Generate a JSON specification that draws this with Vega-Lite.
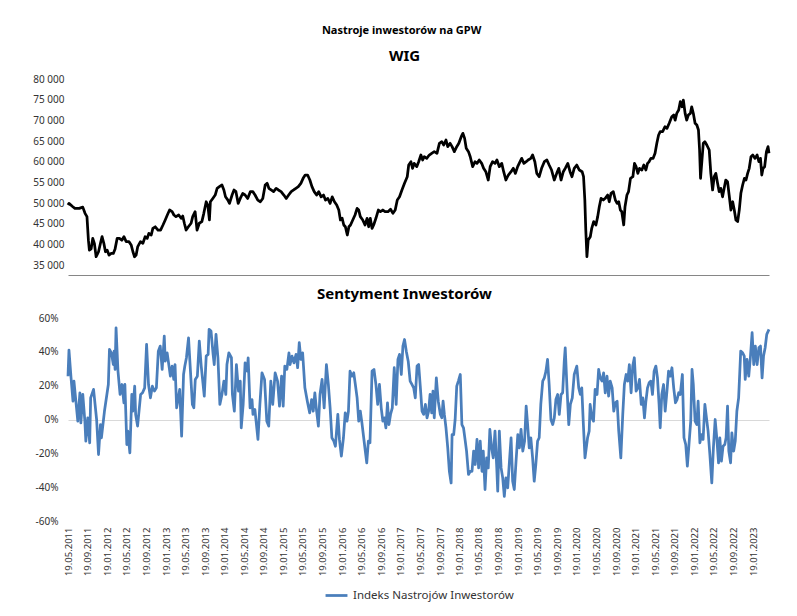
{
"$schema": "https://vega.github.io/schema/vega-lite/v6.json",
"background": "white",
"padding": {"left": 32, "top": 25, "right": 5, "bottom": 5},
"title": {"text": "Nastroje inwestorów na GPW", "fontSize": 11, "anchor": "middle", "offset": 13},
"spacing": 12,
"config": {
  "view": {"stroke": null},
  "font": "Noto Sans",
  "title": {"font": "Noto Sans", "fontWeight": "bold", "color": "#000000"},
  "axis": {"labelFont": "Noto Sans", "labelColor": "#333333"},
  "legend": {"labelFont": "Noto Sans", "layout": {"bottom": {"anchor": "middle"}}}
},
"datasets": {
"wig": [
{"d":"2011-05-19","v":49500},{"d":"2011-05-25","v":49900},{"d":"2011-06-18","v":49100},{"d":"2011-07-01","v":48700},{"d":"2011-07-28","v":48700},{"d":"2011-08-19","v":49000},{"d":"2011-09-02","v":47500},{"d":"2011-09-14","v":46700},{"d":"2011-09-23","v":41000},{"d":"2011-09-29","v":38600},{"d":"2011-10-10","v":38900},{"d":"2011-10-20","v":41450},{"d":"2011-10-30","v":40250},{"d":"2011-11-10","v":37000},{"d":"2011-11-25","v":38200},{"d":"2011-12-07","v":40250},{"d":"2011-12-17","v":41850},{"d":"2011-12-28","v":40250},{"d":"2012-01-07","v":38200},{"d":"2012-01-18","v":38600},{"d":"2012-01-29","v":37400},{"d":"2012-02-12","v":37800},{"d":"2012-02-25","v":37800},{"d":"2012-03-07","v":38900},{"d":"2012-03-20","v":41450},{"d":"2012-04-03","v":41450},{"d":"2012-04-18","v":41000},{"d":"2012-05-01","v":41850},{"d":"2012-05-15","v":40650},{"d":"2012-06-01","v":40650},{"d":"2012-06-15","v":39850},{"d":"2012-06-26","v":38200},{"d":"2012-07-06","v":37000},{"d":"2012-07-16","v":37400},{"d":"2012-07-26","v":39450},{"d":"2012-08-12","v":40650},{"d":"2012-08-27","v":40250},{"d":"2012-09-10","v":41850},{"d":"2012-09-23","v":41450},{"d":"2012-10-03","v":42650},{"d":"2012-10-18","v":42250},{"d":"2012-10-28","v":43850},{"d":"2012-11-12","v":44250},{"d":"2012-11-29","v":43450},{"d":"2012-12-15","v":43450},{"d":"2012-12-30","v":44680},{"d":"2013-01-13","v":45900},{"d":"2013-01-26","v":47100},{"d":"2013-02-09","v":48300},{"d":"2013-02-25","v":47900},{"d":"2013-03-08","v":47100},{"d":"2013-03-21","v":46700},{"d":"2013-04-07","v":47100},{"d":"2013-04-22","v":46300},{"d":"2013-05-02","v":46850},{"d":"2013-05-12","v":45100},{"d":"2013-05-23","v":43450},{"d":"2013-06-06","v":44250},{"d":"2013-06-23","v":45100},{"d":"2013-07-03","v":46700},{"d":"2013-07-18","v":47900},{"d":"2013-07-30","v":43450},{"d":"2013-08-13","v":45100},{"d":"2013-08-29","v":45500},{"d":"2013-09-10","v":47500},{"d":"2013-09-25","v":50300},{"d":"2013-10-05","v":49500},{"d":"2013-10-15","v":45900},{"d":"2013-10-21","v":50300},{"d":"2013-11-05","v":51100},{"d":"2013-11-20","v":51930},{"d":"2013-12-02","v":53550},{"d":"2013-12-16","v":53950},{"d":"2014-01-01","v":54350},{"d":"2014-01-13","v":53150},{"d":"2014-01-23","v":51500},{"d":"2014-02-07","v":50700},{"d":"2014-02-17","v":49900},{"d":"2014-03-05","v":51930},{"d":"2014-03-17","v":53150},{"d":"2014-03-29","v":52750},{"d":"2014-04-12","v":49900},{"d":"2014-04-25","v":51100},{"d":"2014-05-10","v":52300},{"d":"2014-05-25","v":51930},{"d":"2014-06-10","v":51100},{"d":"2014-06-27","v":52750},{"d":"2014-07-12","v":52750},{"d":"2014-07-26","v":51930},{"d":"2014-08-12","v":50700},{"d":"2014-08-28","v":50300},{"d":"2014-09-12","v":51100},{"d":"2014-09-27","v":54350},{"d":"2014-10-09","v":54760},{"d":"2014-10-20","v":53550},{"d":"2014-11-03","v":53150},{"d":"2014-11-18","v":52750},{"d":"2014-12-04","v":53550},{"d":"2014-12-18","v":53150},{"d":"2015-01-04","v":52750},{"d":"2015-01-21","v":51930},{"d":"2015-02-05","v":51100},{"d":"2015-02-20","v":51930},{"d":"2015-03-08","v":52750},{"d":"2015-03-23","v":53150},{"d":"2015-04-06","v":53550},{"d":"2015-04-21","v":53950},{"d":"2015-05-07","v":54760},{"d":"2015-05-21","v":55970},{"d":"2015-06-03","v":56770},{"d":"2015-06-18","v":56770},{"d":"2015-07-02","v":55570},{"d":"2015-07-15","v":53950},{"d":"2015-07-29","v":52750},{"d":"2015-08-13","v":51930},{"d":"2015-08-26","v":52750},{"d":"2015-09-10","v":51500},{"d":"2015-09-25","v":51930},{"d":"2015-10-07","v":50700},{"d":"2015-10-22","v":51100},{"d":"2015-11-05","v":49900},{"d":"2015-11-18","v":51500},{"d":"2015-12-02","v":50300},{"d":"2015-12-16","v":49500},{"d":"2015-12-29","v":48300},{"d":"2016-01-08","v":45900},{"d":"2016-01-19","v":46300},{"d":"2016-01-29","v":44680},{"d":"2016-02-08","v":44250},{"d":"2016-02-20","v":42250},{"d":"2016-03-01","v":44250},{"d":"2016-03-11","v":44680},{"d":"2016-03-25","v":45900},{"d":"2016-04-08","v":47100},{"d":"2016-04-21","v":48700},{"d":"2016-05-01","v":48300},{"d":"2016-05-11","v":46700},{"d":"2016-05-26","v":45900},{"d":"2016-06-09","v":44680},{"d":"2016-06-22","v":46300},{"d":"2016-07-02","v":44250},{"d":"2016-07-12","v":46300},{"d":"2016-07-23","v":43850},{"d":"2016-08-02","v":44680},{"d":"2016-08-16","v":46300},{"d":"2016-08-31","v":48300},{"d":"2016-09-13","v":47900},{"d":"2016-09-28","v":48300},{"d":"2016-10-12","v":47900},{"d":"2016-10-30","v":47900},{"d":"2016-11-15","v":48500},{"d":"2016-11-30","v":47500},{"d":"2016-12-14","v":48300},{"d":"2016-12-27","v":50720},{"d":"2017-01-10","v":51500},{"d":"2017-01-25","v":53150},{"d":"2017-02-10","v":54760},{"d":"2017-02-27","v":56360},{"d":"2017-03-08","v":59190},{"d":"2017-03-22","v":59990},{"d":"2017-04-01","v":58390},{"d":"2017-04-11","v":59590},{"d":"2017-04-27","v":58790},{"d":"2017-05-09","v":59990},{"d":"2017-05-23","v":61610},{"d":"2017-06-03","v":60400},{"d":"2017-06-13","v":61200},{"d":"2017-06-28","v":60800},{"d":"2017-07-14","v":61610},{"d":"2017-07-29","v":62020},{"d":"2017-08-14","v":62420},{"d":"2017-08-31","v":62020},{"d":"2017-09-15","v":64440},{"d":"2017-09-30","v":64840},{"d":"2017-10-12","v":64040},{"d":"2017-10-26","v":65240},{"d":"2017-11-06","v":63630},{"d":"2017-11-21","v":64440},{"d":"2017-12-03","v":63630},{"d":"2017-12-17","v":62420},{"d":"2018-01-01","v":63630},{"d":"2018-01-14","v":64440},{"d":"2018-01-29","v":66040},{"d":"2018-02-08","v":66860},{"d":"2018-02-19","v":65640},{"d":"2018-03-01","v":63230},{"d":"2018-03-15","v":62420},{"d":"2018-03-26","v":61200},{"d":"2018-04-10","v":58790},{"d":"2018-04-25","v":59990},{"d":"2018-05-07","v":59590},{"d":"2018-05-21","v":60400},{"d":"2018-06-05","v":59590},{"d":"2018-06-17","v":58390},{"d":"2018-07-01","v":57570},{"d":"2018-07-16","v":55560},{"d":"2018-07-28","v":58790},{"d":"2018-08-12","v":59990},{"d":"2018-08-27","v":59590},{"d":"2018-09-08","v":60400},{"d":"2018-09-23","v":58790},{"d":"2018-10-08","v":59590},{"d":"2018-10-20","v":57570},{"d":"2018-11-03","v":55560},{"d":"2018-11-18","v":56770},{"d":"2018-12-05","v":57570},{"d":"2018-12-19","v":58390},{"d":"2019-01-01","v":57170},{"d":"2019-01-15","v":58790},{"d":"2019-01-30","v":59990},{"d":"2019-02-09","v":60800},{"d":"2019-02-23","v":59590},{"d":"2019-03-09","v":59990},{"d":"2019-03-21","v":60400},{"d":"2019-04-07","v":60800},{"d":"2019-04-18","v":61610},{"d":"2019-05-02","v":59990},{"d":"2019-05-14","v":57170},{"d":"2019-05-29","v":56360},{"d":"2019-06-13","v":58390},{"d":"2019-06-30","v":59990},{"d":"2019-07-16","v":60400},{"d":"2019-07-30","v":59190},{"d":"2019-08-14","v":57980},{"d":"2019-08-31","v":55560},{"d":"2019-09-15","v":57170},{"d":"2019-09-28","v":58390},{"d":"2019-10-12","v":55560},{"d":"2019-10-26","v":57570},{"d":"2019-11-07","v":58390},{"d":"2019-11-23","v":59590},{"d":"2019-12-07","v":57570},{"d":"2019-12-19","v":56360},{"d":"2020-01-02","v":58390},{"d":"2020-01-18","v":59190},{"d":"2020-02-03","v":57980},{"d":"2020-02-20","v":57570},{"d":"2020-02-29","v":56360},{"d":"2020-03-08","v":50720},{"d":"2020-03-14","v":43470},{"d":"2020-03-21","v":37010},{"d":"2020-03-29","v":41050},{"d":"2020-04-11","v":41850},{"d":"2020-04-20","v":43880},{"d":"2020-05-02","v":45500},{"d":"2020-05-16","v":44680},{"d":"2020-05-27","v":46700},{"d":"2020-06-06","v":49100},{"d":"2020-06-17","v":51130},{"d":"2020-07-01","v":50720},{"d":"2020-07-13","v":51130},{"d":"2020-07-28","v":51930},{"d":"2020-08-07","v":50300},{"d":"2020-08-18","v":52340},{"d":"2020-09-01","v":52750},{"d":"2020-09-14","v":50720},{"d":"2020-09-25","v":49900},{"d":"2020-10-05","v":50300},{"d":"2020-10-15","v":48300},{"d":"2020-10-24","v":47900},{"d":"2020-11-05","v":44680},{"d":"2020-11-13","v":49100},{"d":"2020-11-25","v":51930},{"d":"2020-12-05","v":52750},{"d":"2020-12-17","v":55970},{"d":"2021-01-01","v":56360},{"d":"2021-01-11","v":59590},{"d":"2021-01-21","v":58790},{"d":"2021-02-01","v":57170},{"d":"2021-02-11","v":58390},{"d":"2021-02-26","v":57980},{"d":"2021-03-10","v":59190},{"d":"2021-03-23","v":57980},{"d":"2021-04-02","v":59590},{"d":"2021-04-12","v":59990},{"d":"2021-04-23","v":60800},{"d":"2021-05-07","v":60800},{"d":"2021-05-19","v":62020},{"d":"2021-05-30","v":64440},{"d":"2021-06-10","v":66450},{"d":"2021-06-20","v":67250},{"d":"2021-07-05","v":67250},{"d":"2021-07-20","v":68460},{"d":"2021-08-01","v":68050},{"d":"2021-08-15","v":69280},{"d":"2021-08-31","v":70870},{"d":"2021-09-12","v":71290},{"d":"2021-09-21","v":70060},{"d":"2021-10-01","v":71690},{"d":"2021-10-13","v":72490},{"d":"2021-10-23","v":74510},{"d":"2021-11-03","v":73280},{"d":"2021-11-11","v":74910},{"d":"2021-11-22","v":71690},{"d":"2021-12-02","v":70060},{"d":"2021-12-12","v":71290},{"d":"2021-12-25","v":71690},{"d":"2022-01-02","v":73280},{"d":"2022-01-12","v":71690},{"d":"2022-01-23","v":69280},{"d":"2022-02-03","v":68860},{"d":"2022-02-13","v":67660},{"d":"2022-02-20","v":62820},{"d":"2022-02-26","v":55970},{"d":"2022-03-07","v":60400},{"d":"2022-03-15","v":64440},{"d":"2022-03-25","v":64840},{"d":"2022-04-06","v":64040},{"d":"2022-04-21","v":62820},{"d":"2022-05-01","v":57170},{"d":"2022-05-12","v":53150},{"d":"2022-05-22","v":56360},{"d":"2022-06-01","v":57170},{"d":"2022-06-12","v":54760},{"d":"2022-06-22","v":52750},{"d":"2022-07-02","v":53550},{"d":"2022-07-13","v":51500},{"d":"2022-07-23","v":53550},{"d":"2022-08-02","v":55560},{"d":"2022-08-13","v":55160},{"d":"2022-08-23","v":51930},{"d":"2022-09-03","v":48300},{"d":"2022-09-14","v":50300},{"d":"2022-09-24","v":48300},{"d":"2022-10-04","v":45890},{"d":"2022-10-15","v":45500},{"d":"2022-10-25","v":48300},{"d":"2022-11-04","v":52340},{"d":"2022-11-15","v":54350},{"d":"2022-11-26","v":55970},{"d":"2022-12-06","v":55560},{"d":"2022-12-16","v":57170},{"d":"2022-12-26","v":58390},{"d":"2023-01-06","v":61200},{"d":"2023-01-17","v":61610},{"d":"2023-01-31","v":60800},{"d":"2023-02-13","v":61610},{"d":"2023-02-24","v":59990},{"d":"2023-03-06","v":60800},{"d":"2023-03-14","v":56770},{"d":"2023-03-22","v":58390},{"d":"2023-04-01","v":58790},{"d":"2023-04-12","v":62420},{"d":"2023-04-22","v":63630},{"d":"2023-04-28","v":62020}
],
"sent": [
{"d":"2011-05-19","v":0.256},{"d":"2011-05-25","v":0.41},{"d":"2011-06-07","v":0.246},{"d":"2011-06-19","v":0.108},{"d":"2011-06-25","v":0.227},{"d":"2011-07-07","v":0.108},{"d":"2011-07-19","v":-0.01},{"d":"2011-08-01","v":0.158},{"d":"2011-08-07","v":-0.02},{"d":"2011-08-19","v":0.148},{"d":"2011-09-01","v":-0.01},{"d":"2011-09-07","v":-0.128},{"d":"2011-09-19","v":0.01},{"d":"2011-10-01","v":-0.138},{"d":"2011-10-07","v":0.128},{"d":"2011-10-25","v":0.178},{"d":"2011-11-13","v":0.0},{"d":"2011-11-25","v":-0.207},{"d":"2011-12-07","v":-0.03},{"d":"2011-12-13","v":-0.108},{"d":"2012-01-01","v":0.05},{"d":"2012-01-25","v":0.207},{"d":"2012-02-01","v":0.414},{"d":"2012-02-13","v":0.394},{"d":"2012-02-25","v":0.325},{"d":"2012-03-01","v":0.404},{"d":"2012-03-07","v":0.296},{"d":"2012-03-13","v":0.542},{"d":"2012-03-25","v":0.286},{"d":"2012-04-07","v":0.148},{"d":"2012-04-19","v":0.207},{"d":"2012-05-01","v":0.099},{"d":"2012-05-07","v":0.207},{"d":"2012-05-19","v":-0.148},{"d":"2012-05-25","v":-0.069},{"d":"2012-06-07","v":-0.197},{"d":"2012-06-19","v":0.148},{"d":"2012-06-25","v":0.049},{"d":"2012-07-07","v":0.197},{"d":"2012-07-13","v":0.03},{"d":"2012-07-25","v":-0.039},{"d":"2012-08-13","v":0.148},{"d":"2012-08-25","v":0.158},{"d":"2012-09-07","v":0.187},{"d":"2012-09-19","v":0.444},{"d":"2012-10-01","v":0.207},{"d":"2012-10-13","v":0.128},{"d":"2012-10-25","v":0.197},{"d":"2012-11-07","v":0.168},{"d":"2012-11-19","v":0.187},{"d":"2012-12-01","v":0.404},{"d":"2012-12-13","v":0.434},{"d":"2012-12-25","v":0.296},{"d":"2013-01-07","v":0.493},{"d":"2013-01-13","v":0.345},{"d":"2013-01-25","v":0.394},{"d":"2013-02-07","v":0.306},{"d":"2013-02-14","v":0.256},{"d":"2013-02-25","v":0.316},{"d":"2013-03-07","v":0.237},{"d":"2013-03-15","v":0.325},{"d":"2013-03-25","v":0.069},{"d":"2013-04-13","v":0.178},{"d":"2013-04-25","v":-0.099},{"d":"2013-05-07","v":0.266},{"d":"2013-05-15","v":0.316},{"d":"2013-05-25","v":0.365},{"d":"2013-06-07","v":0.483},{"d":"2013-06-19","v":0.286},{"d":"2013-07-01","v":0.089},{"d":"2013-07-10","v":0.069},{"d":"2013-07-19","v":0.237},{"d":"2013-08-01","v":0.256},{"d":"2013-08-13","v":0.464},{"d":"2013-08-25","v":0.316},{"d":"2013-09-13","v":0.138},{"d":"2013-09-25","v":0.375},{"d":"2013-10-07","v":0.385},{"d":"2013-10-13","v":0.533},{"d":"2013-10-25","v":0.523},{"d":"2013-11-07","v":0.385},{"d":"2013-11-14","v":0.325},{"d":"2013-11-25","v":0.503},{"d":"2013-12-07","v":0.365},{"d":"2013-12-19","v":0.089},{"d":"2014-01-01","v":0.148},{"d":"2014-01-13","v":0.227},{"d":"2014-01-25","v":0.148},{"d":"2014-02-01","v":0.325},{"d":"2014-02-13","v":0.394},{"d":"2014-03-01","v":0.365},{"d":"2014-03-07","v":0.148},{"d":"2014-03-19","v":0.049},{"d":"2014-04-01","v":0.325},{"d":"2014-04-14","v":0.168},{"d":"2014-04-25","v":0.227},{"d":"2014-05-01","v":-0.049},{"d":"2014-05-13","v":0.089},{"d":"2014-05-25","v":0.335},{"d":"2014-06-07","v":0.286},{"d":"2014-06-13","v":0.365},{"d":"2014-06-25","v":0.069},{"d":"2014-07-07","v":0.118},{"d":"2014-07-13","v":0.03},{"d":"2014-07-25","v":0.059},{"d":"2014-08-13","v":-0.118},{"d":"2014-08-25","v":0.089},{"d":"2014-09-07","v":0.276},{"d":"2014-09-23","v":0.237},{"d":"2014-10-07","v":-0.01},{"d":"2014-10-19","v":-0.039},{"d":"2014-11-01","v":0.227},{"d":"2014-11-13","v":0.089},{"d":"2014-11-28","v":0.276},{"d":"2014-12-13","v":0.227},{"d":"2014-12-25","v":0.079},{"d":"2015-01-07","v":0.256},{"d":"2015-01-17","v":0.079},{"d":"2015-01-27","v":0.316},{"d":"2015-02-09","v":0.296},{"d":"2015-02-22","v":0.394},{"d":"2015-03-01","v":0.325},{"d":"2015-03-13","v":0.375},{"d":"2015-03-25","v":0.335},{"d":"2015-04-07","v":0.385},{"d":"2015-04-17","v":0.306},{"d":"2015-04-27","v":0.454},{"d":"2015-05-07","v":0.355},{"d":"2015-05-18","v":0.394},{"d":"2015-06-01","v":0.187},{"d":"2015-06-18","v":0.099},{"d":"2015-07-01","v":0.039},{"d":"2015-07-13","v":0.118},{"d":"2015-07-23","v":0.049},{"d":"2015-08-02","v":0.158},{"d":"2015-08-13","v":0.049},{"d":"2015-08-24","v":-0.039},{"d":"2015-09-03","v":0.148},{"d":"2015-09-16","v":0.237},{"d":"2015-09-29","v":0.069},{"d":"2015-10-13","v":0.325},{"d":"2015-10-25","v":0.207},{"d":"2015-11-05","v":0.069},{"d":"2015-11-16","v":-0.108},{"d":"2015-11-28","v":-0.128},{"d":"2015-12-08","v":-0.158},{"d":"2015-12-23","v":0.03},{"d":"2016-01-02","v":-0.118},{"d":"2016-01-14","v":-0.217},{"d":"2016-01-27","v":-0.108},{"d":"2016-02-07","v":0.039},{"d":"2016-02-18","v":-0.01},{"d":"2016-02-27","v":0.049},{"d":"2016-03-08","v":0.286},{"d":"2016-03-20","v":0.256},{"d":"2016-03-31","v":0.276},{"d":"2016-04-10","v":0.207},{"d":"2016-04-21","v":0.128},{"d":"2016-05-01","v":-0.01},{"d":"2016-05-11","v":0.049},{"d":"2016-05-21","v":-0.02},{"d":"2016-06-01","v":-0.108},{"d":"2016-06-11","v":-0.187},{"d":"2016-06-20","v":-0.256},{"d":"2016-06-30","v":-0.128},{"d":"2016-07-10","v":-0.138},{"d":"2016-07-23","v":0.286},{"d":"2016-08-04","v":0.296},{"d":"2016-08-16","v":0.207},{"d":"2016-08-27","v":0.089},{"d":"2016-09-07","v":0.207},{"d":"2016-09-18","v":0.069},{"d":"2016-09-28","v":-0.01},{"d":"2016-10-08","v":0.01},{"d":"2016-10-17","v":-0.049},{"d":"2016-10-27","v":0.099},{"d":"2016-11-05","v":-0.03},{"d":"2016-11-15","v":0.03},{"d":"2016-11-26","v":0.069},{"d":"2016-12-08","v":0.306},{"d":"2016-12-20","v":0.089},{"d":"2016-12-31","v":0.355},{"d":"2017-01-10","v":0.385},{"d":"2017-01-21","v":0.266},{"d":"2017-01-31","v":0.434},{"d":"2017-02-10","v":0.473},{"d":"2017-02-21","v":0.404},{"d":"2017-03-05","v":0.345},{"d":"2017-03-17","v":0.227},{"d":"2017-03-28","v":0.207},{"d":"2017-04-08","v":0.187},{"d":"2017-04-18","v":0.128},{"d":"2017-04-29","v":0.316},{"d":"2017-05-09","v":0.325},{"d":"2017-05-19","v":0.197},{"d":"2017-05-30","v":0.049},{"d":"2017-06-09","v":0.03},{"d":"2017-06-20","v":0.089},{"d":"2017-06-30","v":0.01},{"d":"2017-07-10","v":0.049},{"d":"2017-07-19","v":0.148},{"d":"2017-07-29","v":0.039},{"d":"2017-08-06","v":0.168},{"d":"2017-08-14","v":0.01},{"d":"2017-08-27","v":0.246},{"d":"2017-09-08","v":0.108},{"d":"2017-09-21","v":0.03},{"d":"2017-09-30","v":0.01},{"d":"2017-10-08","v":0.108},{"d":"2017-10-16","v":0.03},{"d":"2017-10-26","v":-0.049},{"d":"2017-11-06","v":-0.168},{"d":"2017-11-16","v":-0.306},{"d":"2017-11-27","v":-0.375},{"d":"2017-12-03","v":-0.089},{"d":"2017-12-13","v":-0.089},{"d":"2017-12-22","v":0.0},{"d":"2018-01-01","v":0.197},{"d":"2018-01-11","v":0.227},{"d":"2018-01-23","v":0.266},{"d":"2018-02-02","v":-0.03},{"d":"2018-02-12","v":-0.049},{"d":"2018-02-23","v":-0.128},{"d":"2018-03-03","v":-0.187},{"d":"2018-03-15","v":-0.325},{"d":"2018-03-26","v":-0.306},{"d":"2018-04-06","v":-0.306},{"d":"2018-04-16","v":-0.187},{"d":"2018-04-26","v":-0.266},{"d":"2018-05-07","v":-0.118},{"d":"2018-05-17","v":-0.286},{"d":"2018-05-27","v":-0.128},{"d":"2018-06-07","v":-0.306},{"d":"2018-06-15","v":-0.187},{"d":"2018-06-26","v":-0.414},{"d":"2018-07-06","v":-0.227},{"d":"2018-07-16","v":-0.286},{"d":"2018-07-26","v":-0.059},{"d":"2018-08-06","v":-0.168},{"d":"2018-08-16","v":-0.227},{"d":"2018-08-27","v":-0.069},{"d":"2018-09-07","v":-0.286},{"d":"2018-09-13","v":-0.424},{"d":"2018-09-23","v":-0.069},{"d":"2018-10-04","v":-0.286},{"d":"2018-10-14","v":-0.345},{"d":"2018-10-24","v":-0.454},{"d":"2018-11-03","v":-0.345},{"d":"2018-11-14","v":-0.404},{"d":"2018-11-25","v":-0.246},{"d":"2018-12-05","v":-0.108},{"d":"2018-12-15","v":-0.365},{"d":"2018-12-25","v":-0.414},{"d":"2019-01-05","v":-0.246},{"d":"2019-01-16","v":-0.089},{"d":"2019-01-26","v":-0.168},{"d":"2019-02-05","v":-0.059},{"d":"2019-02-16","v":-0.187},{"d":"2019-02-27","v":-0.128},{"d":"2019-03-09","v":0.079},{"d":"2019-03-18","v":-0.03},{"d":"2019-03-28","v":-0.168},{"d":"2019-04-07","v":-0.108},{"d":"2019-04-18","v":-0.227},{"d":"2019-04-28","v":-0.365},{"d":"2019-05-08","v":-0.266},{"d":"2019-05-19","v":-0.128},{"d":"2019-05-29","v":-0.108},{"d":"2019-06-08","v":0.089},{"d":"2019-06-20","v":0.227},{"d":"2019-06-30","v":0.246},{"d":"2019-07-10","v":0.286},{"d":"2019-07-20","v":0.355},{"d":"2019-07-30","v":0.207},{"d":"2019-08-10","v":0.0},{"d":"2019-08-21","v":-0.03},{"d":"2019-08-31","v":0.01},{"d":"2019-09-10","v":0.118},{"d":"2019-09-21","v":0.148},{"d":"2019-10-01","v":0.03},{"d":"2019-10-12","v":0.148},{"d":"2019-10-22","v":0.158},{"d":"2019-11-01","v":0.345},{"d":"2019-11-07","v":0.424},{"d":"2019-11-18","v":0.187},{"d":"2019-11-29","v":-0.03},{"d":"2019-12-09","v":0.089},{"d":"2019-12-21","v":0.128},{"d":"2020-01-02","v":0.266},{"d":"2020-01-18","v":0.316},{"d":"2020-01-30","v":0.187},{"d":"2020-02-09","v":0.148},{"d":"2020-02-18","v":0.187},{"d":"2020-02-28","v":-0.03},{"d":"2020-03-09","v":-0.227},{"d":"2020-03-25","v":-0.108},{"d":"2020-04-04","v":-0.069},{"d":"2020-04-10","v":0.089},{"d":"2020-04-21","v":0.01},{"d":"2020-05-01","v":-0.01},{"d":"2020-05-11","v":0.178},{"d":"2020-05-23","v":0.148},{"d":"2020-06-02","v":0.296},{"d":"2020-06-12","v":0.246},{"d":"2020-06-23","v":0.227},{"d":"2020-07-03","v":0.276},{"d":"2020-07-13","v":0.158},{"d":"2020-07-24","v":0.256},{"d":"2020-08-03","v":0.138},{"d":"2020-08-13","v":0.227},{"d":"2020-08-25","v":0.187},{"d":"2020-09-04","v":0.049},{"d":"2020-09-14","v":0.099},{"d":"2020-09-25","v":0.108},{"d":"2020-10-05","v":-0.069},{"d":"2020-10-18","v":-0.227},{"d":"2020-10-30","v":0.03},{"d":"2020-11-09","v":0.207},{"d":"2020-11-20","v":0.266},{"d":"2020-11-30","v":0.227},{"d":"2020-12-10","v":0.325},{"d":"2020-12-21","v":0.158},{"d":"2020-12-31","v":0.316},{"d":"2021-01-10","v":0.365},{"d":"2021-01-21","v":0.168},{"d":"2021-02-01","v":0.187},{"d":"2021-02-11","v":0.237},{"d":"2021-02-22","v":0.089},{"d":"2021-03-04","v":0.128},{"d":"2021-03-14","v":0.01},{"d":"2021-03-23","v":0.108},{"d":"2021-04-02","v":0.187},{"d":"2021-04-12","v":0.217},{"d":"2021-04-23","v":0.227},{"d":"2021-05-03","v":0.148},{"d":"2021-05-13","v":0.286},{"d":"2021-05-24","v":0.316},{"d":"2021-06-03","v":0.246},{"d":"2021-06-13","v":0.089},{"d":"2021-06-20","v":-0.049},{"d":"2021-06-30","v":0.148},{"d":"2021-07-11","v":0.207},{"d":"2021-07-21","v":0.049},{"d":"2021-08-01","v":0.168},{"d":"2021-08-11","v":0.286},{"d":"2021-08-22","v":0.256},{"d":"2021-09-01","v":0.306},{"d":"2021-09-12","v":0.187},{"d":"2021-09-23","v":0.099},{"d":"2021-10-03","v":0.118},{"d":"2021-10-13","v":0.158},{"d":"2021-10-23","v":0.148},{"d":"2021-11-05","v":0.266},{"d":"2021-11-15","v":-0.108},{"d":"2021-11-26","v":-0.148},{"d":"2021-12-06","v":-0.276},{"d":"2021-12-16","v":-0.148},{"d":"2021-12-27","v":-0.01},{"d":"2022-01-04","v":0.296},{"d":"2022-01-12","v":0.207},{"d":"2022-01-23","v":-0.01},{"d":"2022-02-03","v":-0.03},{"d":"2022-02-11","v":0.108},{"d":"2022-02-22","v":-0.138},{"d":"2022-03-04","v":-0.089},{"d":"2022-03-14","v":-0.118},{"d":"2022-03-25","v":0.089},{"d":"2022-04-04","v":0.01},{"d":"2022-04-14","v":-0.069},{"d":"2022-04-25","v":-0.207},{"d":"2022-05-07","v":-0.375},{"d":"2022-05-17","v":-0.168},{"d":"2022-05-28","v":0.0},{"d":"2022-06-07","v":-0.108},{"d":"2022-06-18","v":-0.256},{"d":"2022-06-26","v":-0.108},{"d":"2022-07-06","v":-0.246},{"d":"2022-07-16","v":-0.158},{"d":"2022-07-27","v":-0.148},{"d":"2022-08-04","v":-0.108},{"d":"2022-08-13","v":0.079},{"d":"2022-08-21","v":-0.187},{"d":"2022-09-01","v":-0.256},{"d":"2022-09-09","v":-0.079},{"d":"2022-09-20","v":-0.187},{"d":"2022-09-30","v":-0.128},{"d":"2022-10-10","v":0.049},{"d":"2022-10-21","v":0.128},{"d":"2022-11-03","v":0.404},{"d":"2022-11-15","v":0.394},{"d":"2022-11-25","v":0.375},{"d":"2022-12-01","v":0.237},{"d":"2022-12-12","v":0.355},{"d":"2022-12-23","v":0.256},{"d":"2023-01-02","v":0.365},{"d":"2023-01-13","v":0.513},{"d":"2023-01-23","v":0.325},{"d":"2023-02-02","v":0.434},{"d":"2023-02-13","v":0.325},{"d":"2023-02-24","v":0.424},{"d":"2023-03-06","v":0.434},{"d":"2023-03-16","v":0.246},{"d":"2023-03-25","v":0.375},{"d":"2023-04-04","v":0.424},{"d":"2023-04-14","v":0.503},{"d":"2023-04-28","v":0.533}
]
},
"vconcat": [
{
  "width": 701, "height": 186,
  "data": {"name": "wig"},
  "title": {"text": "WIG", "fontSize": 15, "dx": -14, "offset": 10},
  "mark": {"type": "line", "color": "#000000", "strokeWidth": 2.75, "strokeJoin": "round"},
  "encoding": {
    "x": {"field": "d", "type": "temporal",
      "scale": {"type": "utc", "domain": [{"year": 2011, "month": 5, "date": 19, "utc": true}, {"year": 2023, "month": 4, "date": 28, "utc": true}]},
      "axis": {"labels": false, "ticks": false, "title": null, "grid": false, "domainColor": "#868686", "domainWidth": 1, "offset": 10}},
    "y": {"field": "v", "type": "quantitative",
      "scale": {"domain": [35000, 80000], "nice": false, "zero": false},
      "axis": {"values": [35000, 40000, 45000, 50000, 55000, 60000, 65000, 70000, 75000, 80000],
        "labelExpr": "replace(format(datum.value, ','), ',', ' ')", "labelOverlap": false,
        "domain": false, "ticks": false, "grid": false, "title": null, "labelFontSize": 10, "labelPadding": 4}}
  }
},
{
  "width": 701, "height": 203,
  "data": {"name": "sent"},
  "title": {"text": "Sentyment Inwestorów", "fontSize": 15, "dx": -14, "offset": 11},
  "mark": {"type": "line", "strokeWidth": 2.75, "strokeJoin": "round"},
  "encoding": {
    "x": {"field": "d", "type": "temporal",
      "scale": {"type": "utc", "domain": [{"year": 2011, "month": 5, "date": 19, "utc": true}, {"year": 2023, "month": 4, "date": 28, "utc": true}]},
      "axis": {"values": [
        {"year": 2011, "month": 5, "date": 19, "utc": true}, {"year": 2011, "month": 9, "date": 19, "utc": true},
        {"year": 2012, "month": 1, "date": 19, "utc": true}, {"year": 2012, "month": 5, "date": 19, "utc": true}, {"year": 2012, "month": 9, "date": 19, "utc": true},
        {"year": 2013, "month": 1, "date": 19, "utc": true}, {"year": 2013, "month": 5, "date": 19, "utc": true}, {"year": 2013, "month": 9, "date": 19, "utc": true},
        {"year": 2014, "month": 1, "date": 19, "utc": true}, {"year": 2014, "month": 5, "date": 19, "utc": true}, {"year": 2014, "month": 9, "date": 19, "utc": true},
        {"year": 2015, "month": 1, "date": 19, "utc": true}, {"year": 2015, "month": 5, "date": 19, "utc": true}, {"year": 2015, "month": 9, "date": 19, "utc": true},
        {"year": 2016, "month": 1, "date": 19, "utc": true}, {"year": 2016, "month": 5, "date": 19, "utc": true}, {"year": 2016, "month": 9, "date": 19, "utc": true},
        {"year": 2017, "month": 1, "date": 19, "utc": true}, {"year": 2017, "month": 5, "date": 19, "utc": true}, {"year": 2017, "month": 9, "date": 19, "utc": true},
        {"year": 2018, "month": 1, "date": 19, "utc": true}, {"year": 2018, "month": 5, "date": 19, "utc": true}, {"year": 2018, "month": 9, "date": 19, "utc": true},
        {"year": 2019, "month": 1, "date": 19, "utc": true}, {"year": 2019, "month": 5, "date": 19, "utc": true}, {"year": 2019, "month": 9, "date": 19, "utc": true},
        {"year": 2020, "month": 1, "date": 19, "utc": true}, {"year": 2020, "month": 5, "date": 19, "utc": true}, {"year": 2020, "month": 9, "date": 19, "utc": true},
        {"year": 2021, "month": 1, "date": 19, "utc": true}, {"year": 2021, "month": 5, "date": 19, "utc": true}, {"year": 2021, "month": 9, "date": 19, "utc": true},
        {"year": 2022, "month": 1, "date": 19, "utc": true}, {"year": 2022, "month": 5, "date": 19, "utc": true}, {"year": 2022, "month": 9, "date": 19, "utc": true},
        {"year": 2023, "month": 1, "date": 19, "utc": true}],
        "labelExpr": "utcFormat(datum.value, '%d.%m.%Y')", "labelAngle": -90, "labelOverlap": false, "labelBound": false,
        "domain": false, "ticks": false, "grid": false, "title": null, "labelFontSize": 9.5, "labelPadding": 6}},
    "y": {"field": "v", "type": "quantitative",
      "scale": {"domain": [-0.6, 0.6], "nice": false, "zero": false},
      "axis": {"values": [-0.6, -0.4, -0.2, 0, 0.2, 0.4, 0.6],
        "labelExpr": "replace(format(datum.value, '.0%'), '\u2212', '-')", "labelOverlap": false,
        "domain": false, "ticks": false, "title": null, "labelFontSize": 10, "labelPadding": 10,
        "grid": true, "gridColor": "#d9d9d9", "gridWidth": 1,
        "gridOpacity": {"condition": {"test": "datum.value === 0", "value": 1}, "value": 0}}},
    "color": {"datum": "Indeks Nastrojów Inwestorów", "type": "nominal",
      "scale": {"range": ["#4A7EBB"]},
      "legend": {"orient": "bottom", "title": null, "symbolType": "stroke", "symbolStrokeWidth": 2.75, "symbolSize": 480, "labelFontSize": 11.5, "labelLimit": 400, "labelColor": "#333333", "offset": 7}}
  }
}
]
}
